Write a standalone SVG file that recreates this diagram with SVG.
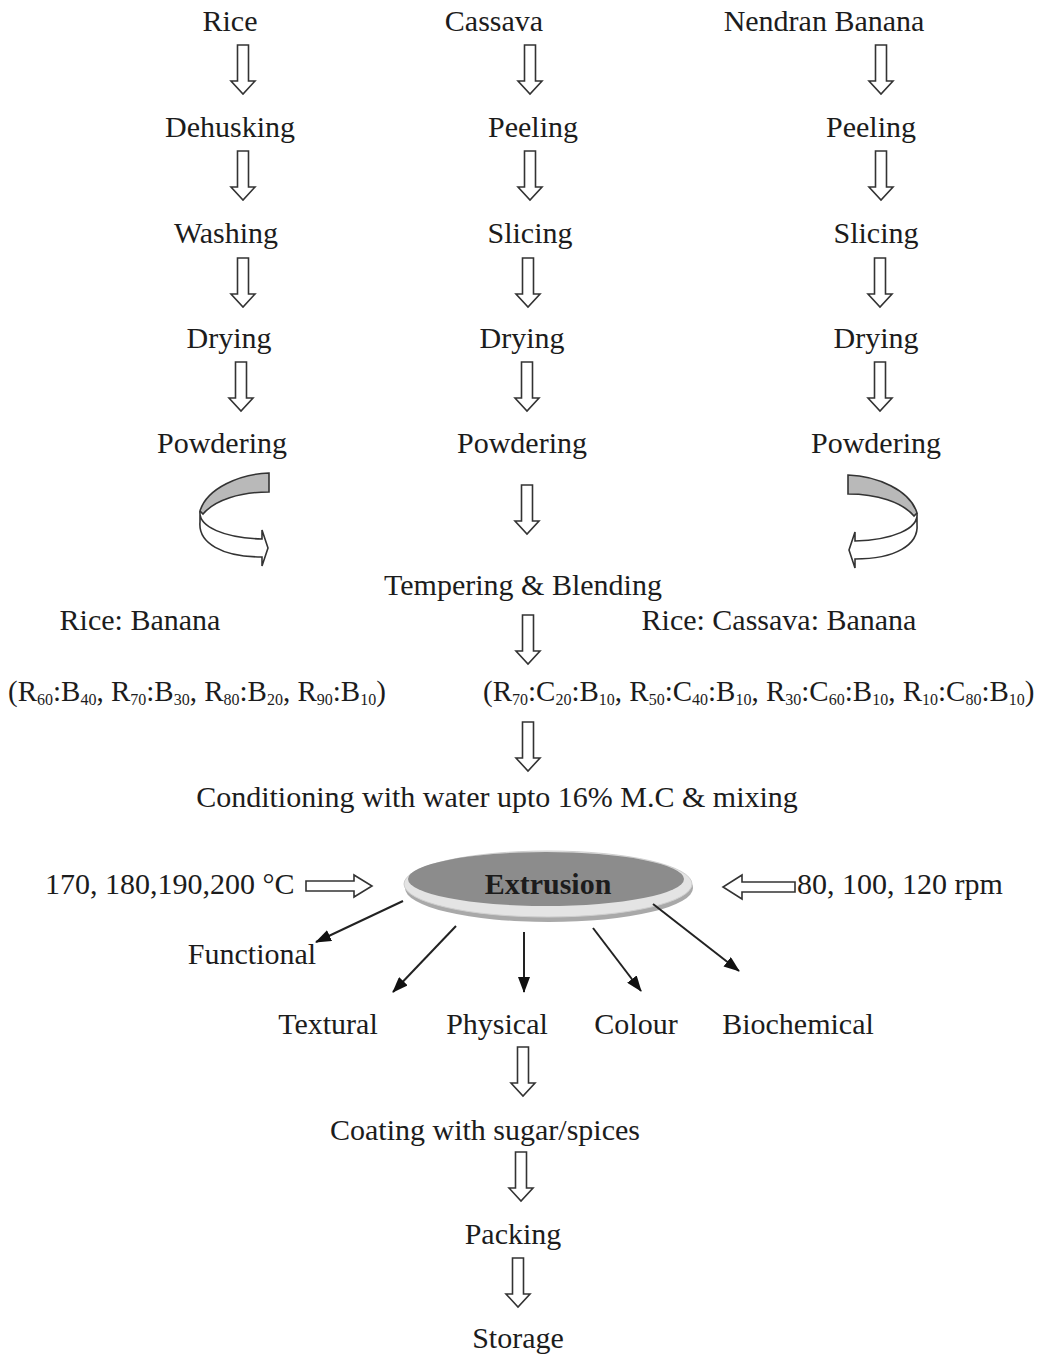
<svg xmlns="http://www.w3.org/2000/svg" xmlns:xlink="http://www.w3.org/1999/xlink" width="1046" height="1355" viewBox="0 0 1046 1355">
<style>
text{font-family:"Liberation Serif","Times New Roman",serif;font-size:30px;fill:#1c1c1c}
.c{text-anchor:middle}
.f{font-size:29px}
.s{font-size:16px}
.ho{fill:#fff;stroke:#333;stroke-width:1.6;stroke-linejoin:miter}
.ln{stroke:#222;stroke-width:2;fill:none;marker-end:url(#ah)}
</style>
<defs>
<path id="da" class="ho" d="M-5.5,0 L5.5,0 L5.5,36 L12,36 L0,49 L-12,36 L-5.5,36 Z"/>
<marker id="ah" viewBox="0 0 16 12" refX="15" refY="6" markerWidth="16" markerHeight="12" markerUnits="userSpaceOnUse" orient="auto">
<path d="M0,0 L16,6 L0,12 Z" fill="#111"/>
</marker>
<g id="curl">
<path d="M269,473 C240,474 207,488 200,511 L203,514 C215,500 240,492 269,492 Z" fill="#b9b9b9" stroke="#333" stroke-width="1.6"/>
<path d="M200,511 C198,527 225,538 262,539 L262,530 L268,548 L262,566 L262,557 C222,557 198,543 200,522 Z" fill="#fff" stroke="#333" stroke-width="1.6"/>
</g>
</defs>

<g id="col-rice">
<text class="c" x="230" y="31">Rice</text>
<use xlink:href="#da" x="243" y="45"/>
<text class="c" x="230" y="137">Dehusking</text>
<use xlink:href="#da" x="243" y="151"/>
<text class="c" x="226" y="243">Washing</text>
<use xlink:href="#da" x="243" y="258"/>
<text class="c" x="229" y="348">Drying</text>
<use xlink:href="#da" x="241" y="362"/>
<text class="c" x="222" y="453">Powdering</text>
</g>

<g id="col-cassava">
<text class="c" x="494" y="31">Cassava</text>
<use xlink:href="#da" x="530" y="45"/>
<text class="c" x="533" y="137">Peeling</text>
<use xlink:href="#da" x="530" y="151"/>
<text class="c" x="530" y="243">Slicing</text>
<use xlink:href="#da" x="528" y="258"/>
<text class="c" x="522" y="348">Drying</text>
<use xlink:href="#da" x="527" y="362"/>
<text class="c" x="522" y="453">Powdering</text>
<use xlink:href="#da" x="527" y="485"/>
</g>

<g id="col-banana">
<text class="c" x="824" y="31">Nendran Banana</text>
<use xlink:href="#da" x="881" y="45"/>
<text class="c" x="871" y="137">Peeling</text>
<use xlink:href="#da" x="881" y="151"/>
<text class="c" x="876" y="243">Slicing</text>
<use xlink:href="#da" x="880" y="258"/>
<text class="c" x="876" y="348">Drying</text>
<use xlink:href="#da" x="880" y="362"/>
<text class="c" x="876" y="453">Powdering</text>
</g>

<g id="curl-left"><use xlink:href="#curl"/></g>
<g id="curl-right"><use xlink:href="#curl" transform="translate(1117,2) scale(-1,1)"/></g>

<g id="blending">
<text class="c" x="523" y="595">Tempering &amp; Blending</text>
<text class="c" x="140" y="630">Rice: Banana</text>
<text class="c" x="779" y="630">Rice: Cassava: Banana</text>
<use xlink:href="#da" x="528" y="615"/>
<text class="f" x="8" y="701">(R<tspan class="s" dy="4">60</tspan><tspan dy="-4">:B</tspan><tspan class="s" dy="4">40</tspan><tspan dy="-4">, R</tspan><tspan class="s" dy="4">70</tspan><tspan dy="-4">:B</tspan><tspan class="s" dy="4">30</tspan><tspan dy="-4">, R</tspan><tspan class="s" dy="4">80</tspan><tspan dy="-4">:B</tspan><tspan class="s" dy="4">20</tspan><tspan dy="-4">, R</tspan><tspan class="s" dy="4">90</tspan><tspan dy="-4">:B</tspan><tspan class="s" dy="4">10</tspan><tspan dy="-4">)</tspan></text>
<text class="f" x="483" y="701">(R<tspan class="s" dy="4">70</tspan><tspan dy="-4">:C</tspan><tspan class="s" dy="4">20</tspan><tspan dy="-4">:B</tspan><tspan class="s" dy="4">10</tspan><tspan dy="-4">, R</tspan><tspan class="s" dy="4">50</tspan><tspan dy="-4">:C</tspan><tspan class="s" dy="4">40</tspan><tspan dy="-4">:B</tspan><tspan class="s" dy="4">10</tspan><tspan dy="-4">, R</tspan><tspan class="s" dy="4">30</tspan><tspan dy="-4">:C</tspan><tspan class="s" dy="4">60</tspan><tspan dy="-4">:B</tspan><tspan class="s" dy="4">10</tspan><tspan dy="-4">, R</tspan><tspan class="s" dy="4">10</tspan><tspan dy="-4">:C</tspan><tspan class="s" dy="4">80</tspan><tspan dy="-4">:B</tspan><tspan class="s" dy="4">10</tspan><tspan dy="-4">)</tspan></text>
<use xlink:href="#da" x="528" y="722"/>
<text class="c" x="497" y="807">Conditioning with water upto 16% M.C &amp; mixing</text>
</g>

<g id="extrusion">
<ellipse cx="549" cy="888" rx="144" ry="34" fill="#a9a9a9"/>
<ellipse cx="548" cy="884" rx="144" ry="33" fill="#e4e4e4" stroke="#cfcfcf" stroke-width="1"/>
<ellipse cx="546" cy="879" rx="138" ry="27" fill="#8c8c8c"/>
<text class="c" x="548" y="894" font-weight="bold">Extrusion</text>
</g>

<g id="inputs">
<text x="45" y="894">170, 180,190,200 °C</text>
<path class="ho" d="M306,881 L354,881 L354,875 L372,886 L354,897 L354,891 L306,891 Z"/>
<path class="ho" d="M795,882 L742,882 L742,875 L723,887 L742,899 L742,892 L795,892 Z"/>
<text x="797" y="894">80, 100, 120 rpm</text>
</g>

<g id="connectors">
<line class="ln" x1="403" y1="901" x2="316" y2="942"/>
<line class="ln" x1="456" y1="926" x2="393" y2="992"/>
<line class="ln" x1="524" y1="932" x2="524" y2="992"/>
<line class="ln" x1="593" y1="928" x2="641" y2="991"/>
<line class="ln" x1="653" y1="904" x2="739" y2="971"/>
</g>

<g id="outputs">
<text class="c" x="252" y="964">Functional</text>
<text class="c" x="328" y="1034">Textural</text>
<text class="c" x="497" y="1034">Physical</text>
<text class="c" x="636" y="1034">Colour</text>
<text class="c" x="798" y="1034">Biochemical</text>
</g>

<g id="final">
<use xlink:href="#da" x="523" y="1047"/>
<text class="c" x="485" y="1140">Coating with sugar/spices</text>
<use xlink:href="#da" x="521" y="1152"/>
<text class="c" x="513" y="1244">Packing</text>
<use xlink:href="#da" x="518" y="1258"/>
<text class="c" x="518" y="1348">Storage</text>
</g>
</svg>
